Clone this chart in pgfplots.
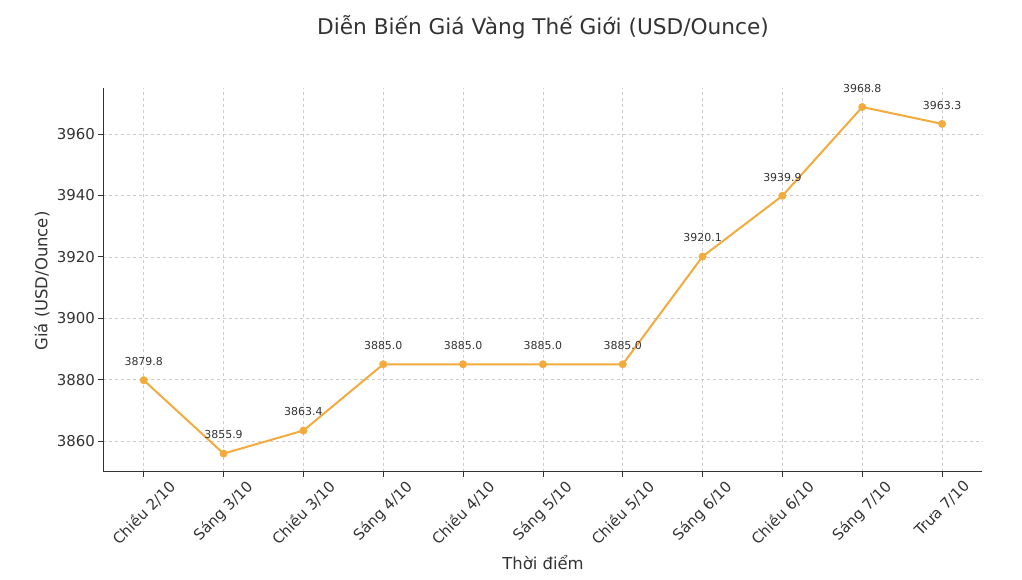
\documentclass[border=0pt]{standalone}
\usepackage{fontspec}
\setmainfont{DejaVu Sans}
\usepackage{graphicx}
\usepackage{pgfplots}
\pgfplotsset{compat=1.18}
\definecolor{gold}{HTML}{F2AB3C}
\definecolor{txt}{HTML}{333333}
\newcommand\rl[1]{\rotatebox{45}{#1}}
\begin{document}
\begin{tikzpicture}[x=1bp,y=1bp]
\useasboundingbox (0,0) rectangle (1022,580);
\begin{axis}[
  at={(103bp,108bp)}, anchor=south west, scale only axis,
  width=879bp, height=384bp,
  xmin=-0.51, xmax=10.5, ymin=3849.9, ymax=3975,
  axis x line*=bottom, axis y line*=left,
  x axis line style={-, color=txt, line width=1bp},
  y axis line style={-, color=txt, line width=1bp},
  xtick={0,...,10},
  xticklabels={\rl{Chiều 2/10}, \rl{Sáng 3/10}, \rl{Chiều 3/10}, \rl{Sáng 4/10}, \rl{Chiều 4/10}, \rl{Sáng 5/10}, \rl{Chiều 5/10}, \rl{Sáng 6/10}, \rl{Chiều 6/10}, \rl{Sáng 7/10}, \rl{Trưa 7/10}},
  ytick={3860,3880,3900,3920,3940,3960},
  /pgf/number format/assume math mode=true,
  grid=major,
  major grid style={dashed, color=black!20, line width=0.6bp},
  tick align=outside,
  major tick length=5bp,
  tick style={color=txt, line width=0.8bp},
  ticklabel style={font=\fontsize{15}{18}\selectfont, color=txt},
  xticklabel style={anchor=north, inner sep=2bp},
  yticklabel style={inner sep=3bp, /pgf/number format/.cd, fixed, 1000 sep={}},
  clip=false,
]
\addplot[color=gold, line width=2bp, mark=*, mark size=3.7bp,
  mark options={fill=gold, draw=gold, line width=0.5bp},
  nodes near coords,
  point meta=y,
  nodes near coords style={font=\fontsize{11}{13}\selectfont, color=txt, anchor=south, yshift=11bp,
    /pgf/number format/.cd, fixed, fixed zerofill, precision=1, 1000 sep={}},
] coordinates {
  (0,3879.8) (1,3855.9) (2,3863.4) (3,3885.0) (4,3885.0) (5,3885.0)
  (6,3885.0) (7,3920.1) (8,3939.9) (9,3968.8) (10,3963.3)
};
\end{axis}
\node[color=txt, font=\fontsize{21.75}{26}\selectfont] at (543,553) {Diễn Biến Giá Vàng Thế Giới (USD/Ounce)};
\node[color=txt, font=\fontsize{16.5}{20}\selectfont] at (543,17) {Thời điểm};
\node[color=txt, font=\fontsize{16.5}{20}\selectfont, rotate=90] at (42,299) {Giá (USD/Ounce)};
\end{tikzpicture}
\end{document}
